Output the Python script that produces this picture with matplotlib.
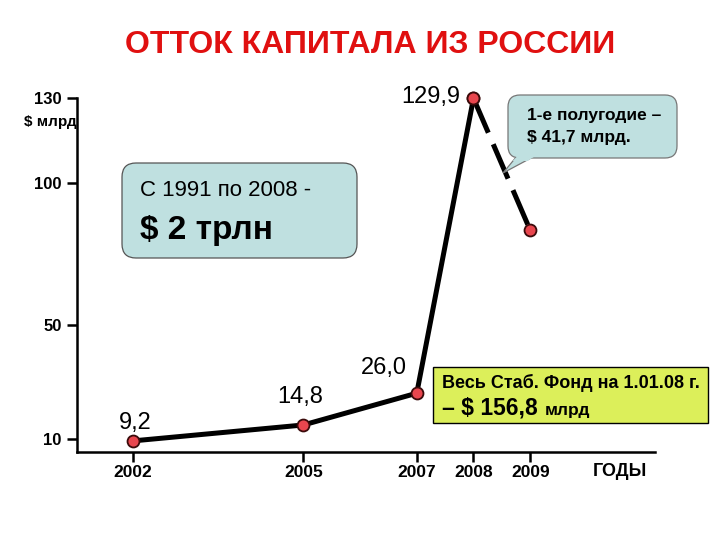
import matplotlib
matplotlib.use('Agg')
import matplotlib.pyplot as plt
from matplotlib.patches import FancyBboxPatch, Polygon, Rectangle
from matplotlib.transforms import IdentityTransform

plt.rcParams['font.family'] = ['Liberation Sans', 'DejaVu Sans']

# ---- data ----
years = [2002, 2005, 2007, 2008]
outflow = [9.2, 14.8, 26.0, 129.9]
value_labels = ['9,2', '14,8', '26,0', '129,9']
forecast_years = [2008, 2009]
forecast = [129.9, 83.4]
xticks = [2002, 2005, 2007, 2008, 2009]
xtick_labels = ['2002', '2005', '2007', '2008', '2009']
yticks = [10, 50, 100, 130]
ytick_labels = ['10', '50', '100', '130']
title = 'ОТТОК КАПИТАЛА ИЗ РОССИИ'

W, H = 720, 540
fig = plt.figure(figsize=(7.2, 5.4), dpi=100)


def F(px, py):
    return (px / W, 1 - py / H)


ax = fig.add_axes([77 / W, 1 - 452 / H, (655 - 77) / W, (452 - 98) / H])
ax.set_xlim(2001.01, 2011.2)
ax.set_ylim(5.28, 130)
for s in ['top', 'right']:
    ax.spines[s].set_visible(False)
for s in ['left', 'bottom']:
    ax.spines[s].set_linewidth(1.8)
ax.set_xticks(xticks)
ax.set_xticklabels(xtick_labels, fontsize=12.5, fontweight='bold')
ax.set_yticks(yticks)
ax.set_yticklabels(ytick_labels, fontsize=12, fontweight='bold')
ax.tick_params(axis='both', direction='out', length=7.2, width=1.8)
ax.tick_params(axis='y', pad=4)
ax.tick_params(axis='x', pad=2)

ax.plot(years, outflow, color='black', lw=3.6, solid_capstyle='round', zorder=3,
        clip_on=False)
ax.plot(forecast_years, forecast, color='black', lw=3.6, dashes=(7.5, 2.5), zorder=3,
        clip_on=False)
mk = dict(ls='none', marker='o', markersize=8.6, mfc='#e8464e', mec='#3a0a0a', mew=1.3,
          zorder=4, clip_on=False)
ax.plot(years, outflow, **mk)
ax.plot(forecast_years, forecast, **mk)

offsets = [(1.5, 13), (-2, 20), (-24, 18), (-31, 1)]
for x, y, lab, off in zip(years, outflow, value_labels, offsets):
    ax.annotate(lab, (x, y), xytext=off, textcoords='offset points',
                ha='center', va='center', fontsize=17, annotation_clip=False)

fig.text(*F(370, 45), title, color='#e01010', fontsize=23, fontweight='bold',
         ha='center', va='center')
fig.text(*F(77, 122), '$ млрд', ha='right', va='center', fontsize=11,
         fontweight='bold', parse_math=False)
fig.text(*F(620, 471), 'ГОДЫ', ha='center', va='center', fontsize=13, fontweight='bold')

idt = IdentityTransform()
# box 1
b1 = FancyBboxPatch((122, H - 258), 235, 95, boxstyle='round,pad=0,rounding_size=14',
                    transform=idt, fc='#bfe0e0', ec='#555555', lw=0.9)
fig.add_artist(b1)
fig.text(*F(140, 190), 'С 1991 по 2008 -', fontsize=16, ha='left', va='center',
         parse_math=False)
fig.text(*F(140, 231), '$ 2 трлн', fontsize=24, fontweight='bold', ha='left',
         va='center', parse_math=False)

# box 2 with pointer
bc = '#bfe0e0'
wedge = Polygon([(522, H - 150), (546, H - 150), (503, H - 173)], closed=True,
                transform=idt, fc=bc, ec='#777777', lw=0.9, zorder=1)
fig.add_artist(wedge)
b2 = FancyBboxPatch((508, H - 158), 169, 63, boxstyle='round,pad=0,rounding_size=12',
                    transform=idt, fc=bc, ec='#777777', lw=0.9, zorder=1.5)
fig.add_artist(b2)
cover = Polygon([(523.5, H - 150), (544.5, H - 150), (527.6, H - 161), (512.6, H - 161)],
                closed=True, transform=idt, fc=bc, ec='none', zorder=1.6)
fig.add_artist(cover)
fig.text(*F(527, 115), '1-е полугодие –', fontsize=12.5, fontweight='bold',
         ha='left', va='center')
fig.text(*F(527, 137), '$ 41,7 млрд.', fontsize=12.5, fontweight='bold',
         ha='left', va='center', parse_math=False)

# box 3
b3 = Rectangle((433, H - 423), 275, 56, transform=idt, fc='#dcef5a', ec='black', lw=1)
fig.add_artist(b3)
fig.text(*F(442, 383), 'Весь Стаб. Фонд на 1.01.08 г.', fontsize=13,
         fontweight='bold', ha='left', va='center')
fig.text(*F(442, 415), '– $ 156,8', fontsize=16.5, fontweight='bold', ha='left',
         va='baseline', parse_math=False)
fig.text(*F(545, 415), 'млрд', fontsize=12.5, fontweight='bold', ha='left',
         va='baseline')

fig.savefig('out.png', dpi=100)
